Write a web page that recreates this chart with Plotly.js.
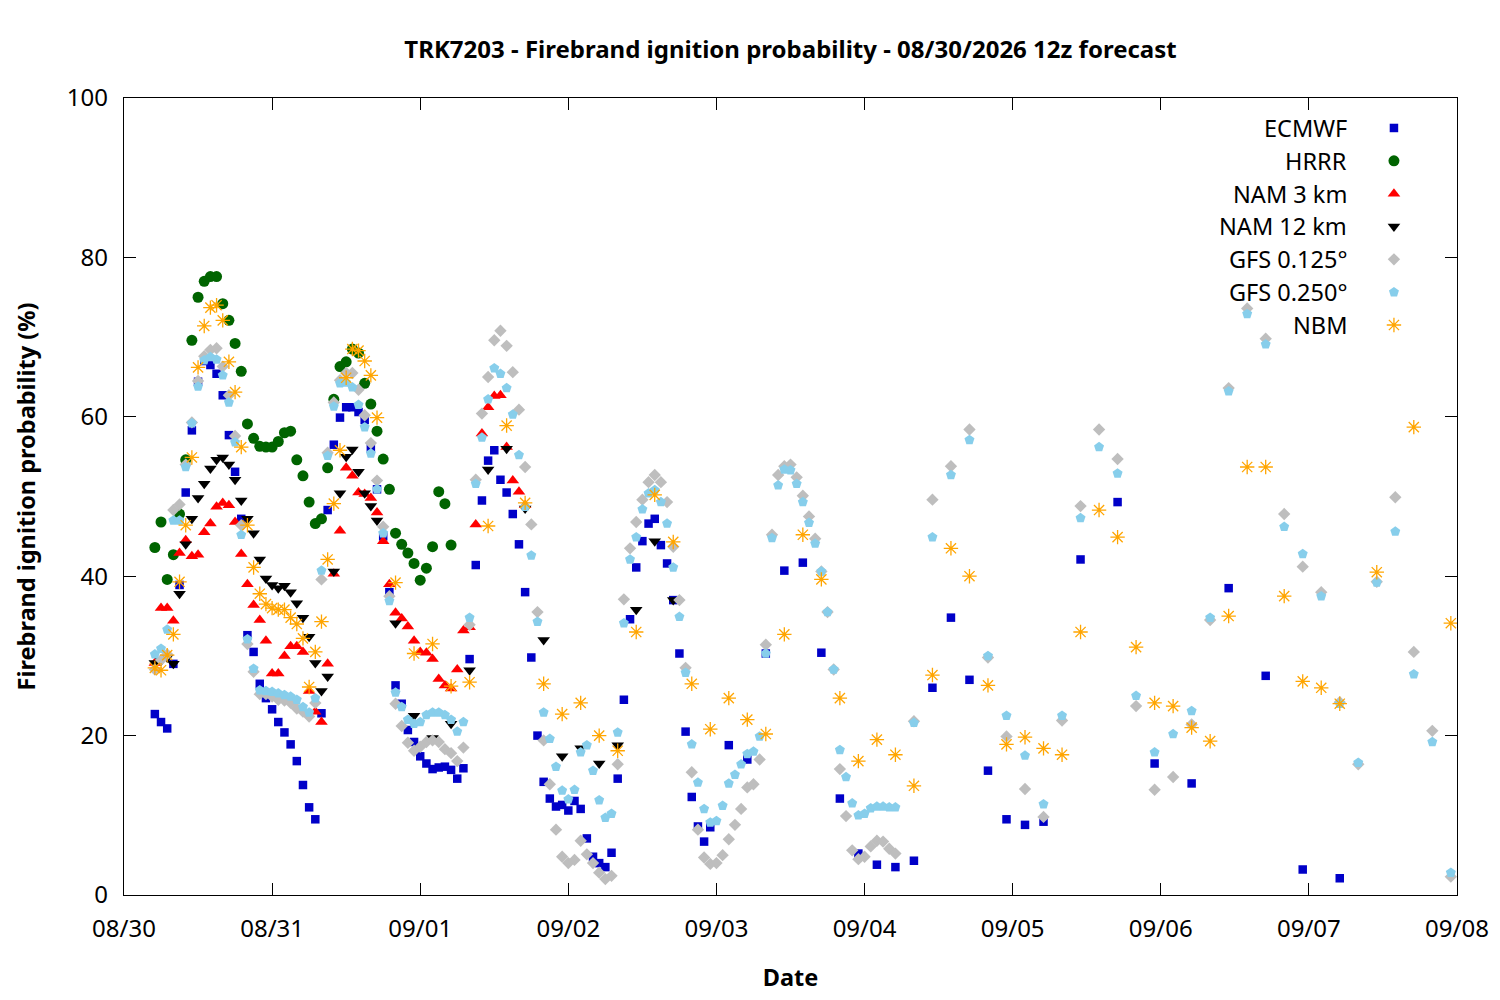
<!DOCTYPE html>
<html>
<head>
<meta charset="utf-8">
<script src="https://cdn.plot.ly/plotly-3.0.1.min.js"></script>
<style>
  html, body { margin: 0; padding: 0; background: #fff; }
  #chart { width: 1500px; height: 1000px; }
</style>
</head>
<body>
<div id="chart"></div>
<script>
// Forecast output times, in hours after 08/30 00:00 (local), issued 08/30 12z
function span(a, b, step) { const r = []; for (let h = a; h <= b; h += step) r.push(h); return r; }

// ---------- ECMWF ----------
const ecmwfHours = span(5, 95, 1).concat([98,101,104,107,110,113,116,119,122,125,128,131,134,137,140,143,146,149,155,161,167,173,179,185,191,197]);
const ecmwfVals = [
  22.7,21.7,20.9,29.0,38.9,50.5,58.3,64.4,67.0,66.5,65.4,62.7,57.7,53.1,47.2,32.6,30.5,26.5,24.7,23.3,
  21.7,20.4,18.9,16.8,13.8,11.0,9.5,22.8,48.3,56.5,59.9,61.2,61.2,60.6,59.6,56.0,50.9,45.0,38.0,26.3,
  24.0,20.7,19.2,17.4,16.5,15.8,16.0,16.1,15.7,14.6,15.9,29.6,41.4,49.5,54.5,55.8,52.1,50.5,47.8,44.0,
  38.0,29.8,20.0,14.2,12.1,11.1,11.3,10.6,11.8,10.8,7.1,4.8,4.0,3.5,5.3,14.6,24.5,34.6,41.1,44.4,
  46.6,47.2,43.9,41.6,37.0,30.3,20.5,12.3,8.6,6.7,8.5,
  18.8,17.0,30.3,40.7,41.7,30.4,12.1,5.2,3.8,3.5,4.3,26.0,34.8,27.0,15.6,9.5,8.8,9.2,42.1,49.3,16.5,14.0,38.5,27.5,3.2,2.1
];

// ---------- HRRR ----------
const hrrrHours = span(5, 53, 1);
const hrrrVals = [
  43.6,46.8,39.6,42.7,47.8,54.6,69.6,75.0,77.0,77.6,77.6,74.2,72.1,69.2,65.7,59.1,57.3,56.3,56.2,56.2,
  56.9,58.0,58.2,54.6,52.6,49.3,46.6,47.2,53.6,62.2,66.3,66.9,68.5,68.0,64.2,61.6,58.2,54.7,50.9,45.4,
  44.0,42.9,41.6,39.5,41.0,43.7,50.6,49.1,43.9
];

// ---------- NAM 3 km ----------
const nam3Hours = span(5, 65, 1);
const nam3Vals = [
  29.1,36.0,36.0,34.4,42.9,44.5,42.5,42.7,45.5,46.6,48.7,49.2,48.9,46.8,42.8,39.0,36.4,34.5,31.9,27.8,
  27.8,30.0,31.2,31.2,30.5,25.6,23.0,21.7,29.0,40.3,45.7,53.6,52.6,50.5,50.3,49.8,48.0,44.4,39.0,35.4,
  34.7,33.7,31.9,30.5,30.4,29.6,27.1,26.3,25.9,28.3,33.2,33.6,46.5,57.9,61.2,62.6,62.7,56.2,52.0,50.6,48.9
];

// ---------- NAM 12 km ----------
const nam12Hours = span(5, 41, 1).concat(span(44, 89, 3));
const nam12Vals = [
  29.1,29.4,29.8,29.0,37.8,44.0,47.2,49.8,51.6,53.5,54.6,54.9,54.0,52.1,49.5,47.2,45.4,42.1,39.7,38.9,
  38.5,38.8,38.0,36.6,34.8,32.4,29.1,25.6,27.4,40.6,50.4,55.0,55.9,53.1,50.4,48.8,47.0,
  34.1,22.5,19.7,21.5,28.2,53.4,56.0,48.5,32.0,17.4,18.4,16.5,18.8,35.8,44.4,37.0
];

// ---------- GFS 0.125 ----------
const gfs125Hours = span(5, 125, 1).concat(span(128, 215, 3));
const gfs125Vals = [
  28.3,29.5,30.2,48.3,49.0,54.0,59.3,64.5,67.6,68.4,68.6,66.3,62.7,57.6,46.4,31.5,28.0,25.2,25.2,24.9,
  24.5,24.4,24.1,23.4,23.0,22.4,24.1,39.6,55.5,61.8,64.6,65.5,65.5,63.4,60.2,56.7,52.0,46.2,37.5,24.0,
  21.2,19.1,18.1,18.6,19.2,19.4,19.2,18.3,17.8,16.8,18.5,33.9,52.1,60.4,65.0,69.6,70.8,68.9,65.6,60.9,
  53.7,46.5,35.5,19.4,13.9,8.2,4.8,4.0,4.4,6.8,5.1,4.0,2.8,2.0,2.4,16.4,37.1,43.5,46.8,49.6,
  51.8,52.7,51.8,49.3,43.7,37.0,28.5,15.4,8.2,4.7,3.9,4.0,5.0,7.0,8.8,10.8,13.5,13.9,17.0,31.4,
  45.2,52.7,53.8,54.0,52.4,50.1,47.5,44.7,40.6,35.5,28.3,15.8,9.9,5.6,4.5,4.8,6.1,6.8,6.7,5.8,5.2,
  21.8,49.6,53.8,58.4,29.8,19.9,13.3,9.8,21.9,48.8,58.4,54.7,23.7,13.2,14.8,21.4,34.5,63.6,73.6,69.8,
  47.8,41.2,38.0,24.2,16.4,39.3,49.9,30.5,20.6,2.3
];

// ---------- GFS 0.250 ----------
const gfs250Hours = span(5, 125, 1).concat(span(128, 215, 3));
const gfs250Vals = [
  30.2,30.9,33.3,47.0,47.0,53.7,59.2,63.8,67.1,67.5,67.2,65.2,61.8,56.8,45.2,32.1,28.4,25.7,25.6,25.5,
  25.3,25.1,24.9,24.5,23.6,22.9,24.7,40.7,55.1,61.3,64.2,64.3,63.7,61.5,58.7,55.4,50.9,45.4,36.9,25.4,
  23.6,22.0,21.5,21.7,22.6,22.9,22.9,22.6,22.0,20.5,21.7,34.8,51.6,57.4,62.2,66.1,65.4,63.6,60.3,55.2,
  48.7,42.6,34.3,22.9,19.6,16.1,13.1,12.0,13.2,17.9,18.8,15.6,11.9,9.7,10.2,20.4,34.1,42.1,44.9,48.4,
  50.4,50.8,49.3,46.6,41.1,34.9,27.9,18.9,14.1,10.8,9.1,9.3,11.2,14.0,15.1,16.4,17.7,18.0,19.9,30.3,
  44.8,51.4,53.4,53.3,51.6,49.3,46.7,44.1,40.6,35.5,28.3,18.2,14.8,11.5,10.0,10.2,10.9,11.1,11.1,11.0,11.0,
  21.6,44.9,52.7,57.1,30.0,22.5,17.5,11.4,22.5,47.3,56.2,52.9,25.0,17.9,20.2,23.1,34.8,63.2,72.9,69.1,
  46.2,42.8,37.5,24.0,16.6,39.2,45.6,27.7,19.2,2.8
];

// ---------- NBM ----------
const nbmHours = span(5, 41, 1).concat(span(44, 197, 3), [203, 209, 215]);
const nbmVals = [
  28.5,28.2,30.1,32.7,39.3,46.4,54.9,66.2,71.4,73.7,74.0,72.1,66.9,63.1,56.2,46.4,41.1,37.8,36.5,36.0,
  35.8,35.8,34.8,34.0,32.2,26.1,30.5,34.3,42.1,49.1,55.8,64.9,68.5,68.3,67.0,65.2,59.9,
  39.2,30.3,31.5,26.2,26.7,46.3,58.9,49.2,26.5,22.7,24.1,20.0,18.1,33.0,50.2,44.3,26.5,20.8,24.7,22.0,
  20.2,32.7,45.2,39.6,24.7,16.8,19.5,17.6,13.7,27.6,43.5,40.0,26.3,18.9,19.8,18.4,17.6,33.0,48.3,44.9,
  31.1,24.1,23.7,21.0,19.3,35.0,53.7,53.7,37.5,26.8,26.0,24.0,
  40.5,58.7,34.1
];

const seriesNames = ['ECMWF', 'HRRR', 'NAM 3 km', 'NAM 12 km', 'GFS 0.125°', 'GFS 0.250°', 'NBM'];
const yTickVals = [0, 20, 40, 60, 80, 100];

const BASE = Date.UTC(2026, 7, 30, 0, 0, 0);
function toDate(h) {
  return new Date(BASE + h * 3600000).toISOString().slice(0, 16).replace('T', ' ');
}

const styles = [
  { symbol: 'square',        size: 8.5, color: '#0000C8' },
  { symbol: 'circle',        size: 11,  color: '#006400' },
  { symbol: 'triangle-up',   size: 11,  color: '#FF0000' },
  { symbol: 'triangle-down', size: 11,  color: '#000000' },
  { symbol: 'diamond',       size: 9.5, color: '#BEBEBE' },
  { symbol: 'pentagon',      size: 10.5, color: '#87CEEB' },
  { symbol: 'asterisk-open', size: 12,  color: '#FFA500' }
];

const hoursList = [ecmwfHours, hrrrHours, nam3Hours, nam12Hours, gfs125Hours, gfs250Hours, nbmHours];
const valsList  = [ecmwfVals, hrrrVals, nam3Vals, nam12Vals, gfs125Vals, gfs250Vals, nbmVals];

function markerFor(s) {
  if (s.symbol === 'asterisk-open') {
    return { symbol: s.symbol, size: s.size, color: s.color, line: { color: s.color, width: 1.3 } };
  }
  return { symbol: s.symbol, size: s.size, color: s.color, line: { width: 0 } };
}

const traces = [];
for (let i = 0; i < seriesNames.length; i++) {
  traces.push({
    type: 'scatter', mode: 'markers', name: seriesNames[i],
    x: hoursList[i].map(toDate), y: valsList[i],
    marker: markerFor(styles[i]),
    showlegend: false, hoverinfo: 'x+y+name'
  });
}

// Gnuplot-style key (text right-aligned, symbol to its right) on a hidden 0..1 overlay axis
const keyRowY = seriesNames.map((_, i) => 0.9624 - i * 0.0412);
const annotations = [];
for (let i = 0; i < seriesNames.length; i++) {
  traces.push({
    type: 'scatter', mode: 'markers', xaxis: 'x2', yaxis: 'y2',
    x: [0.9527], y: [keyRowY[i]], marker: markerFor(styles[i]),
    showlegend: false, hoverinfo: 'skip'
  });
  annotations.push({
    xref: 'paper', yref: 'paper', x: 0.9190, y: keyRowY[i],
    xanchor: 'right', yanchor: 'middle', showarrow: false,
    text: seriesNames[i], font: { family: 'Noto Sans, Open Sans, sans-serif', size: 23.5, color: '#000' }
  });
}

const FONT = 'Noto Sans, Open Sans, sans-serif';
const tickFont = { family: FONT, size: 24, color: '#000' };
const axisTitleFont = { family: FONT, size: 23.5, color: '#000' };
const layout = {
  width: 1500, height: 1000,
  paper_bgcolor: '#fff', plot_bgcolor: '#fff',
  margin: { l: 124, r: 43, t: 98, b: 105 },
  showlegend: false,
  title: {
    text: '<b>TRK7203 - Firebrand ignition probability - 08/30/2026 12z forecast</b>',
    font: { family: FONT, size: 24, color: '#000' },
    x: 0.527, xanchor: 'center', y: 0.95, yanchor: 'middle'
  },
  xaxis: {
    type: 'date',
    range: ['2026-08-30 00:00', '2026-09-08 00:00'],
    dtick: 86400000, tick0: '2026-08-30', tickformat: '%m/%d',
    ticks: 'inside', ticklen: 12, tickwidth: 1.2, tickcolor: '#000',
    showline: true, linecolor: '#000', linewidth: 1.2, mirror: 'allticks',
    showgrid: false, zeroline: false,
    tickfont: tickFont, ticklabelstandoff: 12,
    title: { text: '<b>Date</b>', font: axisTitleFont, standoff: 26 }
  },
  yaxis: {
    range: [0, 100], tickvals: yTickVals, ticktext: yTickVals.map(String),
    ticks: 'inside', ticklen: 12, tickwidth: 1.2, tickcolor: '#000',
    showline: true, linecolor: '#000', linewidth: 1.2, mirror: 'allticks',
    showgrid: false, zeroline: false,
    tickfont: tickFont, ticklabelstandoff: 10,
    title: { text: '<b>Firebrand ignition probability (%)</b>', font: axisTitleFont, standoff: 24 }
  },
  xaxis2: { overlaying: 'x', range: [0, 1], visible: false, fixedrange: true },
  yaxis2: { overlaying: 'y', range: [0, 1], visible: false, fixedrange: true },
  annotations: annotations
};

Plotly.newPlot('chart', traces, layout, { displayModeBar: false, staticPlot: true });
</script>
</body>
</html>
